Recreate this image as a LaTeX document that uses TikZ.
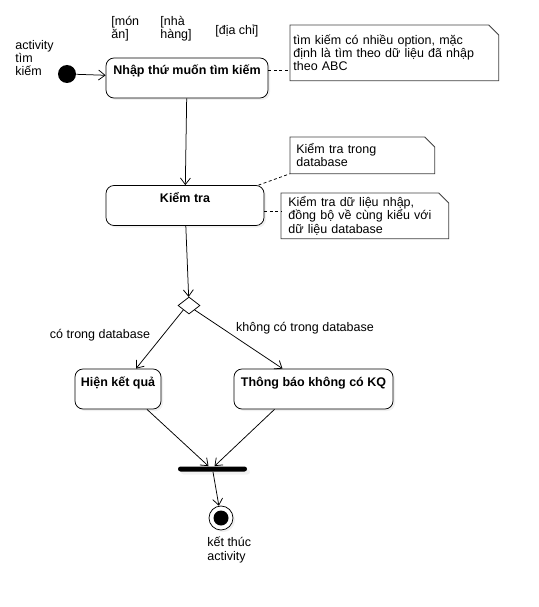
\documentclass[tikz,border=0pt]{standalone}
\usepackage{fontspec}
\setmainfont{Liberation Sans}
\usetikzlibrary{shapes.geometric,arrows.meta,shadows}

\begin{document}
\begin{tikzpicture}[x=1pt, y=-1pt, line width=0.75pt,
  font=\fontsize{12.5}{13.2}\selectfont,
  act/.style={draw, rounded corners=8pt, font=\fontsize{12.5}{14}\selectfont\bfseries,
    minimum height=40pt, text height=14pt, text depth=20pt, inner ysep=3pt, inner xsep=2pt,
    fill=white, drop shadow={opacity=0.12, shadow xshift=2pt, shadow yshift=-2pt}},
  notebox/.style={align=left, inner xsep=3pt, inner ysep=0pt, anchor=north west},
  flow/.style={-{Straight Barb[length=6.5pt,width=10pt]}},
  link/.style={dash pattern=on 3pt off 2.5pt}]
  \useasboundingbox (0,0) rectangle (538,607);

  % start
  \node[align=left, anchor=north west, inner sep=0pt] (title) at (15,40) {activity\\tìm\\kiếm};
  \node[circle, fill, minimum size=18pt, inner sep=0pt] (init) at (67,74) {};

  % input parameters
  \node[align=left, anchor=north west, inner sep=0pt, font=\fontsize{12.5}{11.5}\selectfont] (opt1) at (111,16) {[món\\ăn]};
  \node[align=left, anchor=north west, inner sep=0pt, font=\fontsize{12.5}{11.5}\selectfont] (opt2) at (160,16) {[nhà\\hàng]};
  \node[anchor=north west, inner sep=0pt] (opt3) at (215,25) {[địa chỉ]};

  % actions
  \node[act, minimum width=162pt] (input) at (187,78) {Nhập thứ muốn tìm kiếm};
  \node[act, minimum width=158pt] (check) at (185,205.5) {Kiểm tra};
  \node[diamond, draw, minimum width=22pt, minimum height=17pt, inner sep=0pt] (dec) at (189,305.5) {};
  \node[act, minimum width=86pt] (found) at (118,389) {Hiện kết quả};
  \node[act, minimum width=159pt] (notfound) at (313.5,389) {Thông báo không có KQ};
  \node[fill, rounded corners=2.5pt, minimum width=69pt, minimum height=5pt, inner sep=0pt,
    drop shadow={opacity=0.1, shadow xshift=3pt, shadow yshift=-3pt}] (join) at (212.5,469) {};
  \node[circle, draw, fill=white, minimum size=24pt, inner sep=0pt,
    drop shadow={opacity=0.12, shadow xshift=2pt, shadow yshift=-2pt}] (final) at (221,518) {};
  \fill (final) circle (7.5pt);
  \node[align=left, anchor=north west, inner sep=0pt] (endlbl) at (207,537) {kết thúc\\activity};

  % notes
  \node[notebox, minimum width=208pt, minimum height=55pt, text width=202pt] (note1) at (290,25)
    {tìm kiếm có nhiều option, mặc\\định là tìm theo dữ liệu đã nhập\\theo ABC};
  \node[notebox, minimum width=144pt, minimum height=36pt, text width=136pt] (note2) at (290,137)
    {\hspace*{2pt}Kiểm tra trong\\\hspace*{2pt}database};
  \node[notebox, minimum width=167pt, minimum height=45pt, text width=159pt] (note3) at (281,193)
    {\hspace*{3pt}Kiểm tra dữ liệu nhập,\\\hspace*{3pt}đồng bộ về cùng kiểu với\\\hspace*{3pt}dữ liệu database};
  \foreach \n in {note1,note2,note3}
    \draw[black!75] (\n.north west) -- ([xshift=-10pt]\n.north east) -- ([yshift=-10pt]\n.north east)
      -- (\n.south east) -- (\n.south west) -- cycle;

  \draw[link] ([yshift=8pt]input.east) -- ([yshift=8pt]input.east -| note1.west);
  \draw[link] ([xshift=-6pt]check.north east) -- (note2.south west);
  \draw[link] ([yshift=-6pt]check.east) -- ([yshift=-6pt]check.east -| note3.west);

  % flow
  \draw[flow] (init) -- (input);
  \draw[flow] (input) -- (check);
  \draw[flow] (check) -- (dec);
  \draw[flow] (dec.south west) -- ([xshift=18pt]found.north);
  \draw[flow] (dec.south east) -- ([xshift=-31pt]notfound.north);
  \draw[flow] ([xshift=29pt]found.south) -- ([xshift=-4pt]join.north);
  \draw[flow] ([xshift=-39pt]notfound.south) -- ([xshift=2pt]join.north);
  \draw[flow] (join) -- (final);

  \node (lblyes) at (100,335) {có trong database};
  \node (lblno) at (305,328) {không có trong database};
\end{tikzpicture}
\end{document}
